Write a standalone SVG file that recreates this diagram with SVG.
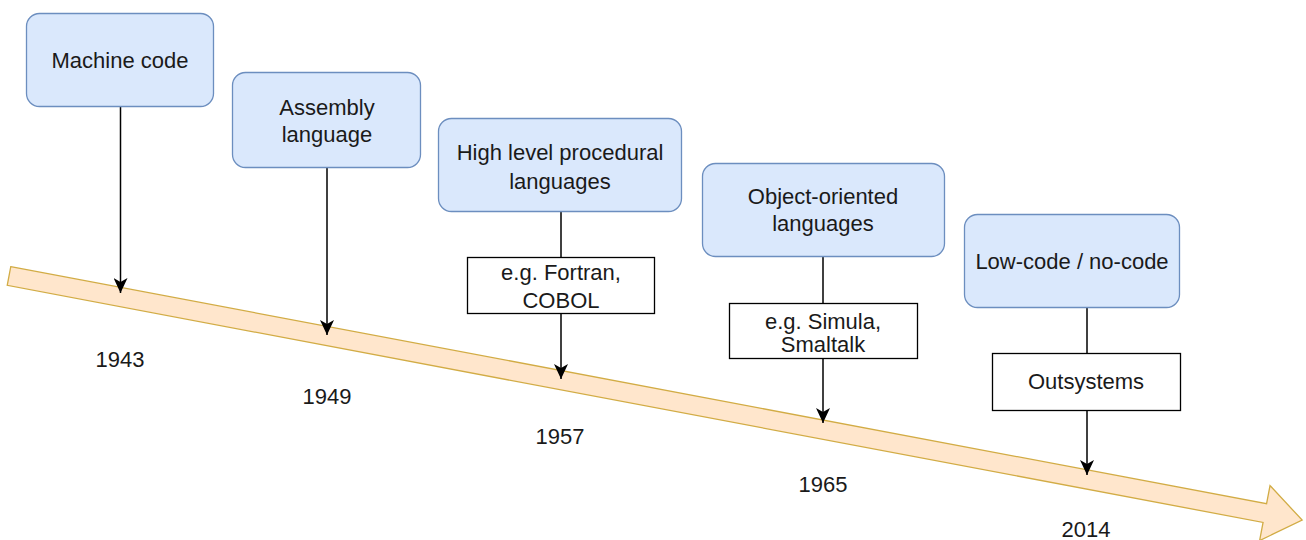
<svg xmlns="http://www.w3.org/2000/svg" width="1306" height="540" viewBox="0 0 1306 540">
<style>
.node{fill:#dae8fc;stroke:#6c8ebf;stroke-width:1.3}
.ex{fill:#ffffff;stroke:#000000;stroke-width:1.3}
.t{font-family:"Liberation Sans",Arial,sans-serif;font-size:22px;fill:#1a1a1a;text-anchor:middle}
.c{stroke:#000000;stroke-width:1.5;fill:none}
</style>
<defs>
<marker id="ah" markerUnits="userSpaceOnUse" markerWidth="16" markerHeight="14" viewBox="0 0 16 14" refX="15" refY="7" orient="auto">
<path d="M0,0 L15,7 L0,14 L4,7 Z" fill="#000000"/>
</marker>
</defs>
<rect width="1306" height="540" fill="#ffffff"/>
<g id="timeline">
<path transform="translate(9,276) rotate(10.69)" d="M0,-9.5 L1278,-9.5 L1278,-28 L1316,0 L1278,28 L1278,9.5 L0,9.5 Z" fill="#ffe6cc" stroke="#d2ac45" stroke-width="1.3" stroke-linejoin="miter"/>
</g>
<g id="connectors">
<line class="c" x1="120.5" y1="107" x2="120.5" y2="293" marker-end="url(#ah)"/>
<line class="c" x1="327" y1="168" x2="327" y2="335" marker-end="url(#ah)"/>
<line class="c" x1="561" y1="212" x2="561" y2="257"/>
<line class="c" x1="561" y1="313" x2="561" y2="379" marker-end="url(#ah)"/>
<line class="c" x1="823" y1="257" x2="823" y2="303"/>
<line class="c" x1="823" y1="359" x2="823" y2="423" marker-end="url(#ah)"/>
<line class="c" x1="1087" y1="308" x2="1087" y2="353"/>
<line class="c" x1="1087" y1="411" x2="1087" y2="475" marker-end="url(#ah)"/>
</g>
<g id="machine-code">
<rect class="node" x="26.5" y="13.5" width="187" height="93" rx="13"/>
<text class="t" x="120" y="68">Machine code</text>
</g>
<g id="assembly">
<rect class="node" x="232.5" y="72.5" width="188" height="95" rx="13"/>
<text class="t" x="327" y="115">Assembly</text>
<text class="t" x="327" y="142">language</text>
</g>
<g id="high-level">
<rect class="node" x="438.5" y="118.5" width="243" height="93" rx="13"/>
<text class="t" x="560" y="160">High level procedural</text>
<text class="t" x="560" y="189">languages</text>
</g>
<g id="fortran">
<rect class="ex" x="467.5" y="257.5" width="187" height="56"/>
<text class="t" x="561" y="280">e.g. Fortran,</text>
<text class="t" x="561" y="308">COBOL</text>
</g>
<g id="object-oriented">
<rect class="node" x="702.5" y="163.5" width="242" height="93" rx="13"/>
<text class="t" x="823" y="204">Object-oriented</text>
<text class="t" x="823" y="231">languages</text>
</g>
<g id="simula">
<rect class="ex" x="729.5" y="303.5" width="188" height="55"/>
<text class="t" x="823" y="329">e.g. Simula,</text>
<text class="t" x="823" y="352">Smaltalk</text>
</g>
<g id="low-code">
<rect class="node" x="964.5" y="214.5" width="215" height="93" rx="13"/>
<text class="t" x="1072" y="269">Low-code / no-code</text>
</g>
<g id="outsystems">
<rect class="ex" x="992.5" y="353.5" width="188" height="57"/>
<text class="t" x="1086" y="389">Outsystems</text>
</g>
<g id="years">
<text class="t" x="120" y="367">1943</text>
<text class="t" x="327" y="404">1949</text>
<text class="t" x="560" y="444">1957</text>
<text class="t" x="823" y="492">1965</text>
<text class="t" x="1086" y="537">2014</text>
</g>
</svg>
